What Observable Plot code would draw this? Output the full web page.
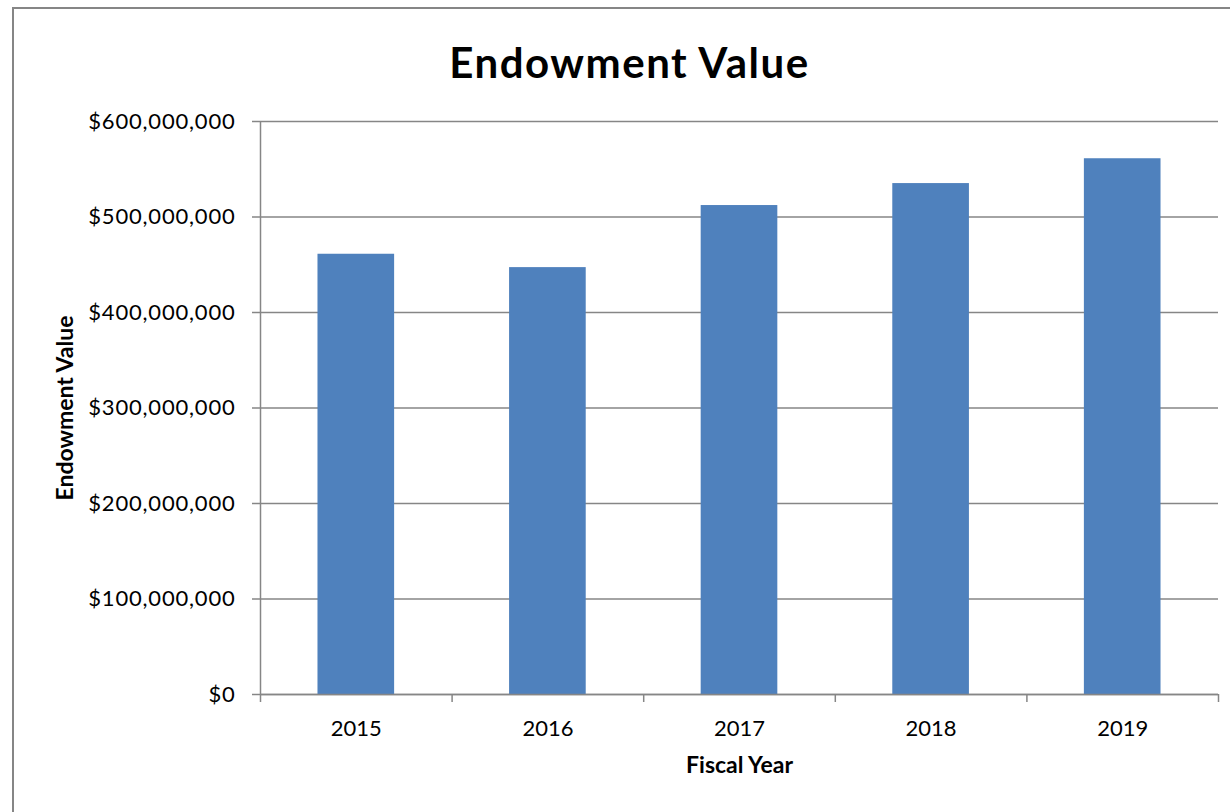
<!DOCTYPE html>
<html>
<head>
<meta charset="utf-8">
<script src="https://cdn.jsdelivr.net/npm/d3@7"></script>
<script src="https://cdn.jsdelivr.net/npm/@observablehq/plot@0.6"></script>
<style>
  html, body { margin: 0; padding: 0; background: #fff; overflow: hidden; }
  body { width: 1230px; height: 812px; position: relative; font-family: Lato, "Open Sans", sans-serif; }
  #frame { position: absolute; left: 12px; top: 7px; width: 1300px; height: 900px; border: 2px solid #868686; pointer-events: none; }
  #title { height: 100px; box-sizing: border-box; padding-top: 42px; padding-left: 29px; line-height: 40px; text-align: center; font-weight: bold; font-size: 42px; letter-spacing: 1.5px; color: #000; }
  #chart svg { display: block; }
  #chart g[aria-label="y-axis tick label"] text { letter-spacing: 0.8px; }
  #chart g[aria-label="axis-title"] text { letter-spacing: 0.6px; }
</style>
</head>
<body>
<div id="frame"></div>
<div id="title">Endowment Value</div>
<div id="chart"></div>
<script>
const years = [2015, 2016, 2017, 2018, 2019];
const values = [461e6, 447e6, 512e6, 535e6, 561e6];
const yTicks = [0, 100e6, 200e6, 300e6, 400e6, 500e6, 600e6];
const xLabel = "Fiscal Year";
const yLabel = "Endowment Value";

const data = years.map((year, i) => ({year, value: values[i]}));
const boundaries = years.map(y => y - 0.5).concat([years[years.length - 1] + 0.5]);
const grid = "#868686";
const money = d => "$" + d3.format(",")(d);

const chart = Plot.plot({
  width: 1230,
  height: 712,
  marginTop: 21,
  marginBottom: 118,
  marginLeft: 260,
  marginRight: 12,
  style: {fontFamily: "Lato, 'Open Sans', sans-serif", color: "#000", background: "transparent"},
  x: {domain: [boundaries[0], boundaries[boundaries.length - 1]], axis: null},
  y: {domain: [yTicks[0], yTicks[yTicks.length - 1]], axis: null},
  marks: [
    Plot.ruleY(yTicks, {stroke: grid, strokeWidth: 1.5}),
    Plot.axisY(yTicks, {tickSize: 8, tickPadding: 17, tickFormat: money, stroke: grid, strokeWidth: 1.5, strokeOpacity: 1, fontSize: 22, fill: "#000", label: null}),
    Plot.rectY(data, {x1: d => d.year - 0.2, x2: d => d.year + 0.2, y: "value", fill: "#4F81BD"}),
    Plot.ruleX([boundaries[0]], {stroke: grid, strokeWidth: 1.5}),
    Plot.ruleY([yTicks[0]], {stroke: grid, strokeWidth: 1.5}),
    Plot.axisX(boundaries, {tickSize: 8, tickFormat: () => "", stroke: grid, strokeWidth: 1.5, strokeOpacity: 1, label: null}),
    Plot.axisX(years, {tickSize: 0, tickPadding: 26, tickFormat: d => String(d), fontSize: 22, fill: "#000", label: null}),
    Plot.text([yLabel], {text: d => d, frameAnchor: "left", textAnchor: "middle", dx: -195, rotate: -90, fontWeight: "bold", fontSize: 23, fill: "#000", ariaLabel: "axis-title"}),
    Plot.text([xLabel], {text: d => d, frameAnchor: "bottom", textAnchor: "middle", dy: 78, fontWeight: "bold", fontSize: 23, fill: "#000", ariaLabel: "axis-title"})
  ]
});
document.getElementById("chart").appendChild(chart);
</script>
</body>
</html>
